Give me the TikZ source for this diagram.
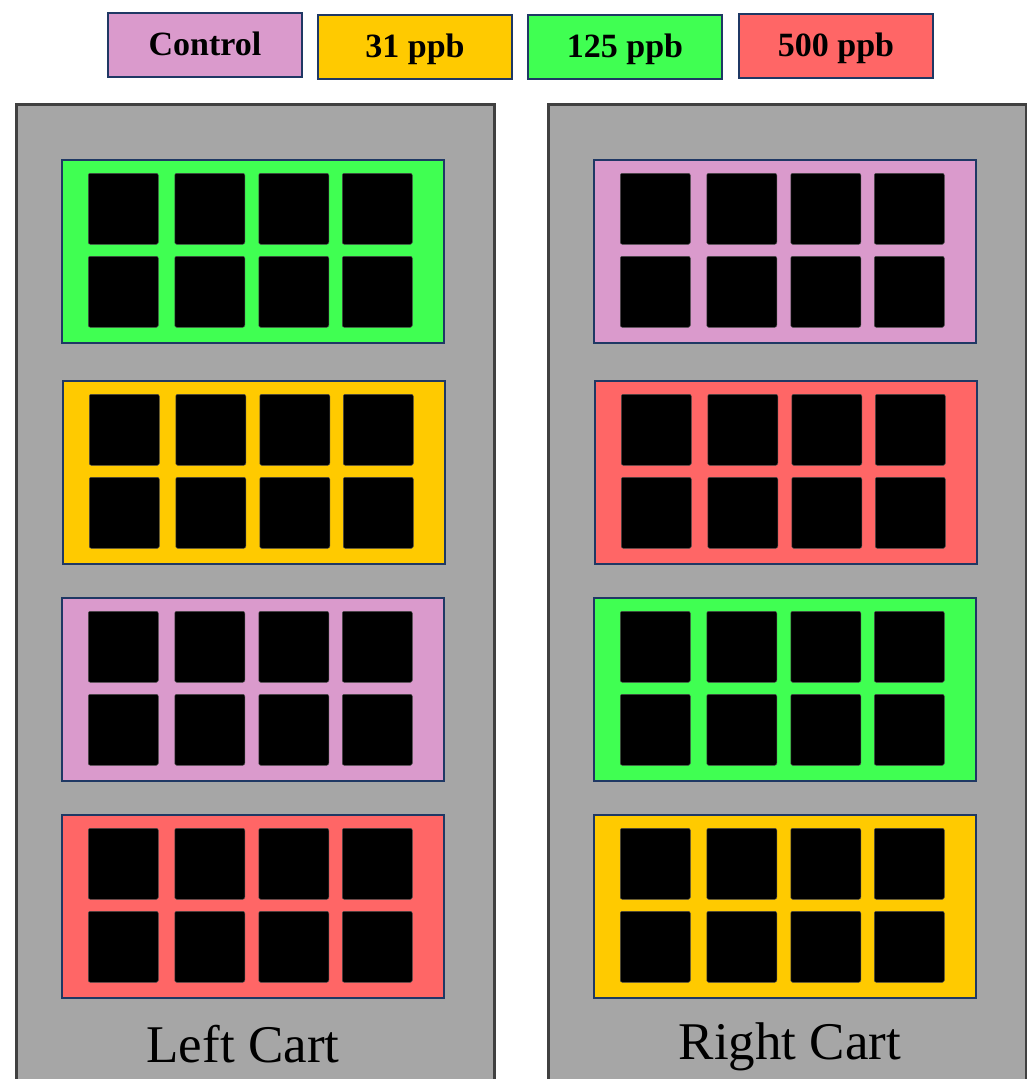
\documentclass[tikz,border=0pt]{standalone}
\usepackage{fontspec}
\setmainfont{Liberation Serif}
\definecolor{cpink}{RGB}{218,154,204}
\definecolor{cyel}{RGB}{255,202,0}
\definecolor{cgreen}{RGB}{64,255,82}
\definecolor{cred}{RGB}{255,102,102}
\definecolor{cgray}{RGB}{166,166,166}
\definecolor{cedge}{RGB}{31,56,100}
\definecolor{cartedge}{RGB}{64,64,64}
\tikzset{
  legbox/.style={draw=cedge, line width=2pt, minimum width=194pt, minimum height=64pt, inner sep=0pt, anchor=north west, text height=25pt, text depth=5pt, font=\fontsize{34}{40}\selectfont\bfseries},
  cartbox/.style={draw=cartedge, fill=cgray, line width=2.5pt, minimum width=478pt, minimum height=1000pt, inner sep=0pt, anchor=north west},
  traybox/.style={draw=cedge, line width=2pt, minimum width=382pt, minimum height=183pt, inner sep=0pt, anchor=north west},
  cellbox/.style={fill=black, draw=black!70, line width=0.5pt, rounded corners=2pt, minimum width=70pt, minimum height=71pt, inner sep=0pt, anchor=north west},
  cartlabel/.style={font=\fontsize{53}{60}\selectfont, inner sep=0pt, anchor=base}
}
\begin{document}
\begin{tikzpicture}[x=1pt,y=-1pt]
\useasboundingbox (0,0) rectangle (1027,1079);
\begin{scope}
\clip (0,0) rectangle (1027,1079);
% legend
\node[legbox, fill=cpink] (lc) at (107,12) {Control};
\node[legbox, fill=cyel] (l31) at (317,14) {31 ppb};
\node[legbox, fill=cgreen] (l125) at (527,14) {125 ppb};
\node[legbox, fill=cred] (l500) at (738,13) {500 ppb};
% carts
\node[cartbox] (lcart) at (15,103) {};
\node[cartbox] (rcart) at (547,103) {};
% trays
\foreach \nm/\tx/\ty/\col in {L1/61/159/cgreen, L2/62/380/cyel, L3/61/597/cpink, L4/61/814/cred,
                              R1/593/159/cpink, R2/594/380/cred, R3/593/597/cgreen, R4/593/814/cyel}{
  \node[traybox, fill=\col] (t\nm) at (\tx,\ty) {};
  \foreach \c/\cx in {1/27,2/113.5,3/197.5,4/281}{
    \foreach \r/\ry in {1/14,2/97}{
      \node[cellbox] (c\nm\r\c) at (\tx+\cx,\ty+\ry) {};
    }
  }
}
\node[cartlabel] (llab) at (243,1062) {Left Cart};
\node[cartlabel] (rlab) at (790,1059) {Right Cart};
\end{scope}
\end{tikzpicture}
\end{document}
